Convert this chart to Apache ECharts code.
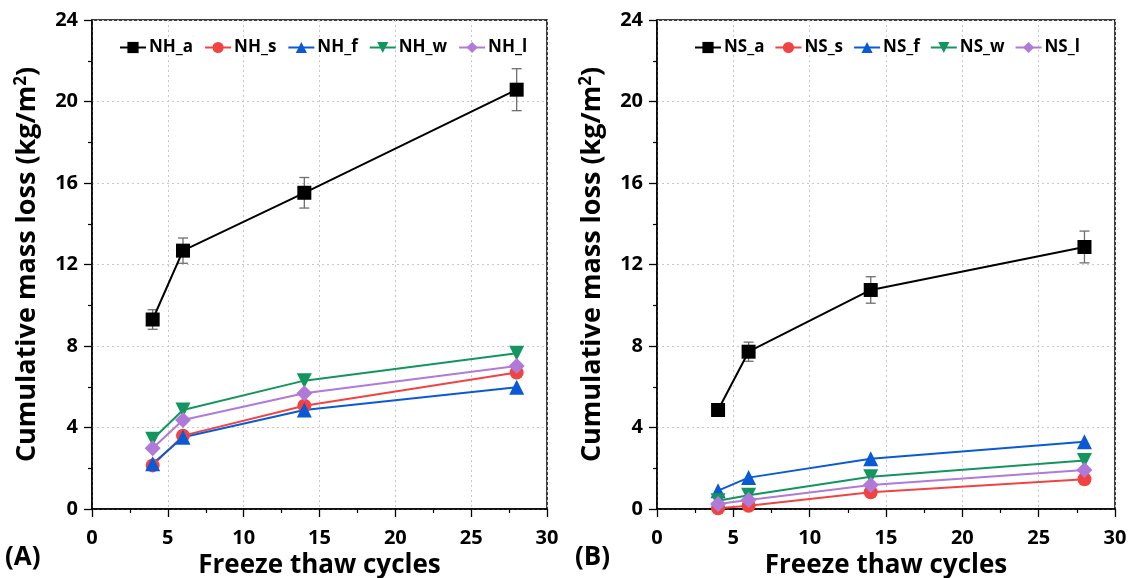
<!DOCTYPE html>
<html>
<head>
<meta charset="utf-8">
<script src="https://cdn.jsdelivr.net/npm/echarts@6/dist/echarts.min.js"></script>
<style>
  html, body { margin: 0; padding: 0; background: #fff; }
  #chart { width: 1130px; height: 578px; }
</style>
</head>
<body>
<div id="chart"></div>
<script>
// Freeze-thaw cycles at which mass loss was measured
const cycles = [4, 6, 14, 28];

// Panel A: NH mixes, cumulative mass loss (kg/m²)
const NH_a = [9.3, 12.68, 15.52, 20.58];
const NH_a_err = [0.48, 0.62, 0.75, 1.03];
const NH_s = [2.14, 3.6, 5.07, 6.7];
const NH_f = [2.22, 3.52, 4.86, 5.98];
const NH_w = [3.42, 4.86, 6.3, 7.64];
const NH_l = [2.98, 4.37, 5.68, 7.02];

// Panel B: NS mixes, cumulative mass loss (kg/m²)
const NS_a = [4.86, 7.72, 10.75, 12.86];
const NS_a_err = [0.15, 0.47, 0.65, 0.78];
const NS_s = [0.04, 0.16, 0.82, 1.46];
const NS_f = [0.9, 1.54, 2.47, 3.3];
const NS_w = [0.4, 0.68, 1.58, 2.38];
const NS_l = [0.24, 0.44, 1.18, 1.91];

const xTicks = [0, 5, 10, 15, 20, 25, 30];
const yTicks = [0, 4, 8, 12, 16, 20, 24];

const FONT = '"Open Sans", "Noto Sans", sans-serif';
const COLORS = { a: '#000000', s: '#f24343', f: '#0a5ad6', w: '#13955f', l: '#b07ad8' };
const SYMBOLS = {
  a: 'rect',
  s: 'circle',
  f: 'triangle',
  w: 'path://M0,0 L10,0 L5,9 Z',
  l: 'diamond'
};
const SIZES = { a: 14, s: 14, f: 15, w: 15, l: 16 };

function zip(xs, ys) { return xs.map((x, i) => [x, ys[i]]); }

function lineSeries(name, key, values, idx) {
  return {
    name: name, type: 'line', xAxisIndex: idx, yAxisIndex: idx,
    data: zip(cycles, values),
    symbol: SYMBOLS[key], symbolSize: SIZES[key],
    lineStyle: { color: COLORS[key], width: 2 },
    itemStyle: { color: COLORS[key], borderWidth: 0 },
    z: 3
  };
}

function errorSeries(values, errs, idx) {
  return {
    type: 'custom', xAxisIndex: idx, yAxisIndex: idx, z: 2,
    data: cycles.map((x, i) => [x, values[i] - errs[i], values[i] + errs[i]]),
    renderItem: function (params, api) {
      const lo = api.coord([api.value(0), api.value(1)]);
      const hi = api.coord([api.value(0), api.value(2)]);
      const cap = 5;
      const style = { stroke: '#6f6f6f', lineWidth: 1.3 };
      return {
        type: 'group',
        children: [
          { type: 'line', shape: { x1: lo[0], y1: lo[1], x2: hi[0], y2: hi[1] }, style: style },
          { type: 'line', shape: { x1: lo[0] - cap, y1: lo[1], x2: lo[0] + cap, y2: lo[1] }, style: style },
          { type: 'line', shape: { x1: hi[0] - cap, y1: hi[1], x2: hi[0] + cap, y2: hi[1] }, style: style }
        ]
      };
    },
    silent: true
  };
}

const gridDefs = [
  { left: 92, top: 20, width: 455, height: 489 },
  { left: 657, top: 20, width: 458, height: 489 }
];

function xAxis(idx) {
  return {
    type: 'value', gridIndex: idx, min: xTicks[0], max: xTicks[xTicks.length - 1], interval: 5,
    name: 'Freeze thaw cycles', nameLocation: 'middle', nameGap: 43,
    nameTextStyle: { fontFamily: FONT, fontWeight: 'bold', fontSize: 26, color: '#000' },
    axisLine: { lineStyle: { color: '#000', width: 1.5 } },
    axisTick: { inside: false, length: 8, lineStyle: { color: '#000', width: 1.3 } },
    minorTick: { show: true, splitNumber: 2, length: 4, lineStyle: { color: '#000', width: 1.2 } },
    axisLabel: { fontFamily: FONT, fontWeight: 'bold', fontSize: 20, color: '#000', margin: 19 },
    splitLine: { show: true, lineStyle: { color: '#c8c8c8', type: [2, 3], width: 1 } }
  };
}

function yAxis(idx) {
  return {
    type: 'value', gridIndex: idx, min: yTicks[0], max: yTicks[yTicks.length - 1], interval: 4,
    name: 'Cumulative mass loss (kg/m{sup|2})', nameLocation: 'middle', nameGap: 50, nameRotate: 90,
    nameTextStyle: {
      fontFamily: FONT, fontWeight: 'bold', fontSize: 27, color: '#000',
      rich: { sup: { fontFamily: FONT, fontWeight: 'bold', fontSize: 17, color: '#000', verticalAlign: 'top', padding: [0, 0, 12, 0] } }
    },
    axisLine: { lineStyle: { color: '#000', width: 1.5 } },
    axisTick: { inside: false, length: 8, lineStyle: { color: '#000', width: 1.3 } },
    minorTick: { show: true, splitNumber: 2, length: 4, lineStyle: { color: '#000', width: 1.2 } },
    axisLabel: { fontFamily: FONT, fontWeight: 'bold', fontSize: 20, color: '#000', margin: 14 },
    splitLine: { show: true, lineStyle: { color: '#c8c8c8', type: [2, 3], width: 1 } }
  };
}

function legend(names, left, gap) {
  return {
    data: names, left: left, top: 34, orient: 'horizontal',
    itemWidth: 26, itemHeight: 14, itemGap: gap,
    textStyle: { fontFamily: FONT, fontWeight: 'bold', fontSize: 17, color: '#000', padding: [0, 0, 0, -2] }
  };
}

const chart = echarts.init(document.getElementById('chart'), null, { renderer: 'canvas' });

chart.setOption({
  animation: false,
  backgroundColor: '#fff',
  grid: gridDefs.map(g => Object.assign({
    show: true, borderColor: '#000', borderWidth: 1.5, backgroundColor: 'transparent',
    containLabel: false, outerBoundsMode: 'none'
  }, g)),
  xAxis: [xAxis(0), xAxis(1)],
  yAxis: [yAxis(0), yAxis(1)],
  legend: [
    legend(['NH_a', 'NH_s', 'NH_f', 'NH_w', 'NH_l'], 114, 11),
    legend(['NS_a', 'NS_s', 'NS_f', 'NS_w', 'NS_l'], 689, 10)
  ],
  graphic: [
    { type: 'text', left: 5, top: 545, style: { text: '(A)', fontFamily: FONT, fontWeight: 'bold', fontSize: 26, fill: '#000' } },
    { type: 'text', left: 575, top: 545, style: { text: '(B)', fontFamily: FONT, fontWeight: 'bold', fontSize: 26, fill: '#000' } }
  ],
  series: [
    errorSeries(NH_a, NH_a_err, 0),
    lineSeries('NH_a', 'a', NH_a, 0),
    lineSeries('NH_s', 's', NH_s, 0),
    lineSeries('NH_f', 'f', NH_f, 0),
    lineSeries('NH_w', 'w', NH_w, 0),
    lineSeries('NH_l', 'l', NH_l, 0),
    errorSeries(NS_a, NS_a_err, 1),
    lineSeries('NS_a', 'a', NS_a, 1),
    lineSeries('NS_s', 's', NS_s, 1),
    lineSeries('NS_f', 'f', NS_f, 1),
    lineSeries('NS_w', 'w', NS_w, 1),
    lineSeries('NS_l', 'l', NS_l, 1)
  ]
});
</script>
</body>
</html>
